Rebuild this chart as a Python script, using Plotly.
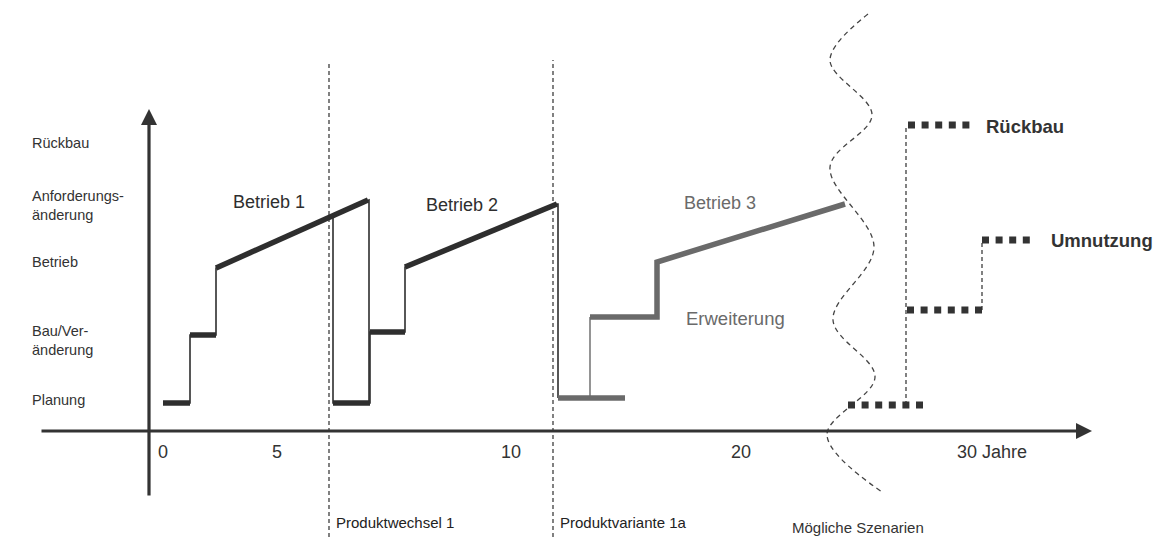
import plotly.graph_objects as go

# ---- schematic data (x: schematic time, y: phase level above the time axis) ----
# Phase 1 (Betrieb 1)
p1_path_x = [14, 41, 41, 67, 67, 219, 220, 220]
p1_path_y = [28, 28, 96, 96, 163, 231, 231, 28]
p1_thick_x = [14, 41, None, 41, 67, None, 67, 219]
p1_thick_y = [28, 28, None, 96, 96, None, 163, 231]

# Phase 2 (Betrieb 2)
p2_path_x = [184, 184, 221, 221, 256, 256, 408, 409, 409]
p2_path_y = [215, 28, 28, 99, 99, 164, 227, 227, 33]
p2_thick_x = [184, 221, None, 221, 256, None, 256, 408]
p2_thick_y = [28, 28, None, 99, 99, None, 164, 227]

# Phase 3 (Erweiterung / Betrieb 3)
p3_thin_x = [441, 441]
p3_thin_y = [33, 114]
p3_thick_x = [409, 476, None, 441, 508, 508, 696]
p3_thick_y = [33, 33, None, 114, 114, 169, 227]

# Scenario dotted segments
scen_bottom_x, scen_bottom_y = [699, 774], [26, 26]
scen_mid_x, scen_mid_y = [758, 833], [121, 121]
scen_umn_x, scen_umn_y = [833, 881], [191, 191]
scen_rueck_x, scen_rueck_y = [759, 821], [306, 306]
scen_vert1_x, scen_vert1_y = [757, 757], [26, 306]
scen_vert2_x, scen_vert2_y = [833, 833], [121, 191]

# Event markers (Produktwechsel 1, Produktvariante 1a)
pw_x, pw_y = [180, 180], [-106, 369]
pv_x, pv_y = [404, 404], [-106, 371]

# Boundary "Mögliche Szenarien" (wavy line control points)
wave_x = [719, 681, 723, 681, 725, 684, 726, 678, 733]
wave_y = [417, 371, 316, 264, 184, 111, 54, -4, -61]

# Time axis ticks
tick_vals = [14, 128, 362, 592, 843]
tick_text = ["0", "5", "10", "20", "30 Jahre"]

# Phase level labels
level_labels = ["Rückbau", "Anforderungs-<br>änderung", "Betrieb", "Bau/Ver-<br>änderung", "Planung"]
level_y = [288, 226, 169, 91, 31]

FONT = "Liberation Sans, Arial, sans-serif"
DARK = "#2e2e2e"
GREY = "#6a6a6a"

fig = go.Figure()

def line(x, y, color, width, dash="solid", shape="linear"):
    fig.add_trace(go.Scatter(x=x, y=y, mode="lines",
                             line=dict(color=color, width=width, dash=dash, shape=shape),
                             hoverinfo="skip", showlegend=False))

# dashed event lines
line(pw_x, pw_y, DARK, 1.2, "4px,3px")
line(pv_x, pv_y, DARK, 1.2, "4px,3px")

# wavy scenario boundary
line(wave_x, wave_y, "#444", 1.3, "5px,4px", "spline")

# phase paths
line(p1_path_x, p1_path_y, DARK, 1.6)
line(p1_thick_x, p1_thick_y, DARK, 5.5)
line(p2_path_x, p2_path_y, DARK, 1.6)
line(p2_thick_x, p2_thick_y, DARK, 5.5)
line(p3_thin_x, p3_thin_y, "#7a7a7a", 1.6)
line(p3_thick_x, p3_thick_y, GREY, 5.5)

# scenarios
line(scen_vert1_x, scen_vert1_y, DARK, 1.2, "4px,3px")
line(scen_vert2_x, scen_vert2_y, DARK, 1.2, "4px,3px")
for sx, sy in [(scen_bottom_x, scen_bottom_y), (scen_mid_x, scen_mid_y),
               (scen_umn_x, scen_umn_y), (scen_rueck_x, scen_rueck_y)]:
    line(sx, sy, "#333", 7, "7px,6.6px")

annotations = []
# axes with arrows
annotations.append(dict(x=943, y=0, ax=-109, ay=0, xref="x", yref="y", axref="x", ayref="y",
                        text="", showarrow=True, arrowhead=2, arrowsize=1, arrowwidth=3.2,
                        arrowcolor="#333"))
annotations.append(dict(x=0, y=322, ax=0, ay=-66, xref="x", yref="y", axref="x", ayref="y",
                        text="", showarrow=True, arrowhead=2, arrowsize=1, arrowwidth=3.2,
                        arrowcolor="#333"))

for lab, ly in zip(level_labels, level_y):
    annotations.append(dict(x=-119, y=ly, xref="x", yref="y", text=lab, showarrow=False,
                            xanchor="left", align="left",
                            font=dict(family=FONT, size=14.5, color="#333")))

texts = [
    ("Betrieb 1", 120, 229, DARK, 18, "center", False),
    ("Betrieb 2", 313, 226, DARK, 18, "center", False),
    ("Betrieb 3", 571, 228, GREY, 18, "center", False),
    ("Erweiterung", 586, 113, GREY, 18.5, "center", False),
    ("Rückbau", 835, 305, "#333", 18.5, "left", True),
    ("Umnutzung", 900, 191, "#333", 18.5, "left", True),
    ("Produktwechsel 1", 185, -91, "#222", 15, "left", False),
    ("Produktvariante 1a", 409, -91, "#222", 15, "left", False),
    ("Mögliche Szenarien", 641, -96, "#333", 15, "left", False),
]
for t, tx, ty, c, s, anc, bold in texts:
    annotations.append(dict(x=tx, y=ty, xref="x", yref="y",
                            text=f"<b>{t}</b>" if bold else t, showarrow=False,
                            xanchor=anc, font=dict(family=FONT, size=s, color=c)))

fig.update_layout(
    width=1170, height=539,
    margin=dict(l=0, r=0, t=0, b=0),
    paper_bgcolor="white", plot_bgcolor="white",
    xaxis=dict(range=[-149, 1021], showgrid=False, zeroline=False, showline=False,
               ticks="", tickvals=tick_vals, ticktext=tick_text,
               tickfont=dict(family=FONT, size=18, color="#333"),
               anchor="free", position=108 / 539, ticklabelstandoff=8, fixedrange=True),
    yaxis=dict(range=[-108, 431], visible=False, fixedrange=True),
    annotations=annotations,
)

fig.write_html("out.html", config={"displayModeBar": False},
               post_script="document.body.style.margin='0';document.body.style.overflow='hidden';")
